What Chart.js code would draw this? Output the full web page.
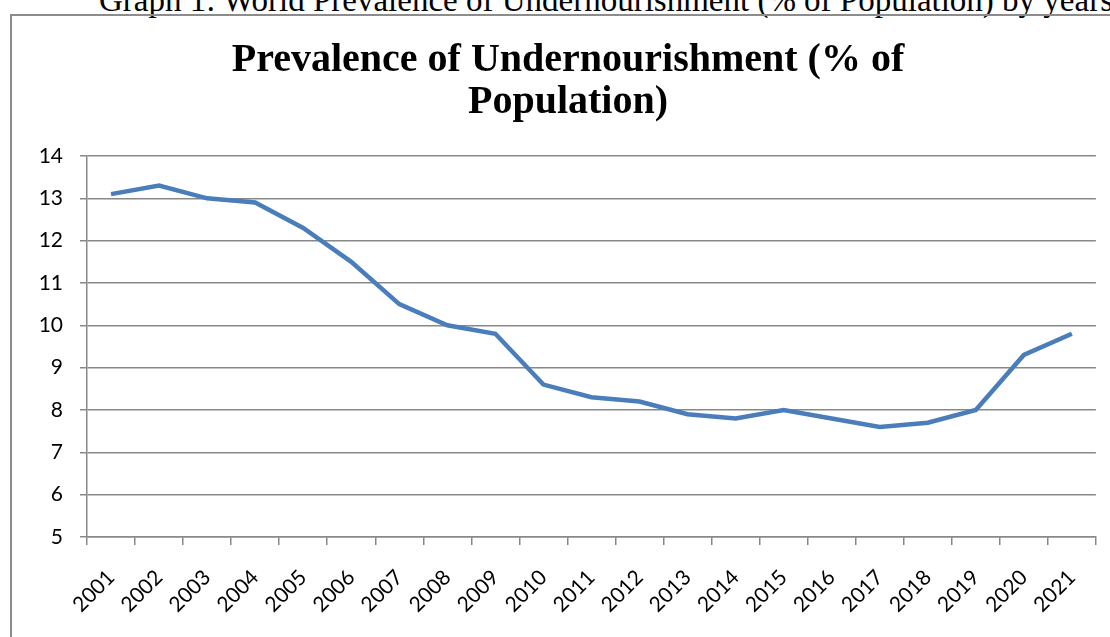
<!DOCTYPE html>
<html>
<head>
<meta charset="utf-8">
<script src="https://cdn.jsdelivr.net/npm/chart.js@4"></script>
<style>
  html, body { margin: 0; padding: 0; background: #fff; overflow: hidden; }
  body { width: 1110px; height: 637px; position: relative; }
  #caption {
    position: absolute; left: 99px; top: -18px; white-space: nowrap;
    font-family: "Liberation Serif", serif; font-size: 33px; color: #000;
  }
  #frame {
    position: absolute; left: 10px; top: 14px; width: 1120px; height: 640px;
    border-left: 2px solid #8c8c8c; border-top: 2px solid #8c8c8c;
  }
  #wrap { position: absolute; left: 0; top: 0; width: 1110px; height: 637px; }
</style>
</head>
<body>
<div id="caption">Graph 1: World Prevalence of Undernourishment (% of Population) by years</div>
<div id="frame"></div>
<div id="wrap"><canvas id="undernourishmentChart"></canvas></div>
<script>
// anni e valori (% della popolazione)
const years = ['2001', '2002', '2003', '2004', '2005', '2006', '2007', '2008', '2009', '2010',
  '2011', '2012', '2013', '2014', '2015', '2016', '2017', '2018', '2019', '2020', '2021'];
const prevalence = [13.1, 13.3, 13.0, 12.9, 12.3, 11.5, 10.5, 10.0, 9.8, 8.6,
  8.3, 8.2, 7.9, 7.8, 8.0, 7.8, 7.6, 7.7, 8.0, 9.3, 9.8];
const yMin = 5;
const yMax = 14;

const gridColor = '#888888';
const tickFont = { family: 'Lato', size: 21 };

const ctx = document.getElementById('undernourishmentChart').getContext('2d');
window.chart = new Chart(ctx, {
  type: 'line',
  data: {
    labels: years,
    datasets: [{
      data: prevalence,
      borderColor: '#4a7ebb',
      borderWidth: 4.5,
      pointRadius: 0,
      tension: 0,
      fill: false
    }]
  },
  options: {
    responsive: true,
    maintainAspectRatio: false,
    animation: false,
    layout: { padding: { left: 39, right: 13, top: 0, bottom: 0 } },
    plugins: {
      legend: { display: false },
      tooltip: { enabled: false },
      title: {
        display: true,
        text: ['Prevalence of Undernourishment (% of', 'Population)'],
        color: '#000',
        font: { family: 'Liberation Serif', size: 40, weight: 'bold', lineHeight: 1.05 },
        padding: { top: 40, bottom: 32 }
      }
    },
    scales: {
      x: {
        offset: true,
        grid: { display: true, offset: true, drawOnChartArea: false, drawTicks: true, tickLength: 8, color: gridColor, lineWidth: 1.5 },
        border: { display: true, color: gridColor, width: 1.5 },
        ticks: { color: '#000', font: tickFont, maxRotation: 45, minRotation: 45, autoSkip: false, padding: 20 },
        afterFit: (scale) => { scale.height = 100; }
      },
      y: {
        min: yMin,
        max: yMax,
        grid: { color: gridColor, lineWidth: 1.5, drawTicks: true, tickLength: 7 },
        border: { display: true, color: gridColor, width: 1.5 },
        ticks: { color: '#000', font: tickFont, stepSize: 1, padding: 17 },
        afterFit: (scale) => { scale.width = 48; }
      }
    }
  }
});
</script>
</body>
</html>
